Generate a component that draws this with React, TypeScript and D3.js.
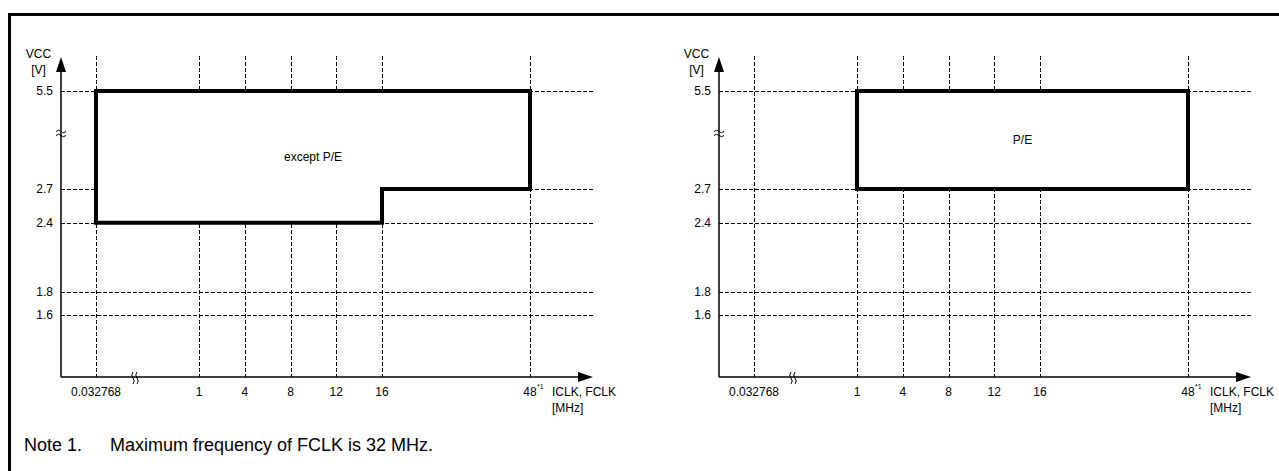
import React from "react";
import * as d3 from "d3";

// ---- data ----
const X_TICKS = ["0.032768", "1", "4", "8", "12", "16", "48"];
const Y_TICKS = [5.5, 2.7, 2.4, 1.8, 1.6];
const REGION_EXCEPT_PE = [
  { f: "0.032768", v: 5.5 },
  { f: "48", v: 5.5 },
  { f: "48", v: 2.7 },
  { f: "16", v: 2.7 },
  { f: "16", v: 2.4 },
  { f: "0.032768", v: 2.4 },
];
const REGION_PE = [
  { f: "1", v: 5.5 },
  { f: "48", v: 5.5 },
  { f: "48", v: 2.7 },
  { f: "1", v: 2.7 },
];
const PANEL_LABELS = ["except P/E", "P/E"];
const X_TITLE = ["ICLK, FCLK", "[MHz]"];
const Y_TITLE = ["VCC", "[V]"];
const NOTE_LABEL = "Note 1.";
const NOTE_TEXT = "Maximum frequency of FCLK is 32 MHz.";

// ---- layout ----
const W = 1279;
const H = 471;
const FONT = "'Liberation Sans', Arial, Helvetica, sans-serif";
const AXIS_X = 61;
const AXIS_Y = 377;
const GRID_TOP = 56;
const GRID_RIGHT = 594;
const ARROW_TIP_X = 593;
const ARROW_TIP_Y = 57;
const PANEL_OFFSETS = [0, 658];
const DASH = "4,2";

function Panel({ off, region, label }: { off: number; region: { f: string; v: number }[]; label: string }) {
  const xIdx = d3.scaleLinear().domain([0, 1, 5, 6]).range([96, 199, 382, 530].map((d) => d + off));
  const x = (f: string) => xIdx(X_TICKS.indexOf(f));
  const y = d3.scaleLinear().domain([1.6, 1.8, 2.4, 2.7, 5.5]).range([315, 291.7, 222.7, 189, 91]);
  const ax = AXIS_X + off;
  const line = d3
    .line<{ f: string; v: number }>()
    .x((d) => x(d.f))
    .y((d) => y(d.v))
    .curve(d3.curveLinear);
  const pathD = line(region) + "Z";
  const xs = region.map((d) => x(d.f));
  const ys = region.map((d) => y(d.v));
  const cx = (Math.min(...xs) + Math.max(...xs)) / 2;
  const cy = (Math.min(...ys) + Math.max(...ys)) / 2;
  const fmt = d3.format(".1f");
  return (
    <g>
      {/* grid */}
      {X_TICKS.map((t) => (
        <line key={"vx" + t} x1={Math.round(x(t)) + 0.5} x2={Math.round(x(t)) + 0.5} y1={GRID_TOP} y2={AXIS_Y} stroke="#000" strokeWidth={1} strokeDasharray={DASH} />
      ))}
      {Y_TICKS.map((t) => (
        <line key={"hy" + t} x1={ax} x2={GRID_RIGHT + off} y1={Math.round(y(t)) + 0.5} y2={Math.round(y(t)) + 0.5} stroke="#000" strokeWidth={1} strokeDasharray={DASH} />
      ))}
      {/* region */}
      <path d={pathD} fill="#fff" stroke="#000" strokeWidth={4} strokeLinejoin="miter" />
      <text x={cx} y={cy + 4} textAnchor="middle" fontSize={12} fontFamily={FONT}>{label}</text>
      {/* axes */}
      <line x1={ax} x2={ax} y1={AXIS_Y} y2={ARROW_TIP_Y + 10} stroke="#000" strokeWidth={1.5} />
      <path d={`M${ax},${ARROW_TIP_Y} L${ax - 5},${ARROW_TIP_Y + 15} L${ax + 5},${ARROW_TIP_Y + 15}Z`} fill="#000" />
      <line x1={ax} x2={ARROW_TIP_X + off - 10} y1={AXIS_Y} y2={AXIS_Y} stroke="#000" strokeWidth={1.5} />
      <path d={`M${ARROW_TIP_X + off},${AXIS_Y} L${ARROW_TIP_X + off - 15},${AXIS_Y - 5} L${ARROW_TIP_X + off - 15},${AXIS_Y + 5}Z`} fill="#000" />
      {/* axis breaks */}
      <path d={`M${ax - 5},${131.5} q2.5,-2.5 5,0 t5,0 M${ax - 5},${135.5} q2.5,-2.5 5,0 t5,0`} fill="none" stroke="#000" strokeWidth={1} />
      <path d={`M${off + 133},${372} q-2.5,3 0,6 t0,6 M${off + 137},${372} q-2.5,3 0,6 t0,6`} fill="none" stroke="#000" strokeWidth={1} />
      {/* y tick labels */}
      {Y_TICKS.map((t) => (
        <text key={"yl" + t} x={ax - 8} y={y(t) + 4} textAnchor="end" fontSize={12} fontFamily={FONT}>{fmt(t)}</text>
      ))}
      {/* x tick labels */}
      {X_TICKS.map((t) => (
        <text key={"xl" + t} x={x(t)} y={396} textAnchor="middle" fontSize={12} fontFamily={FONT}>{t}</text>
      ))}
      <text x={x("48") + 7} y={389} fontSize={7} fontFamily={FONT}>*1</text>
      {/* axis titles */}
      <text x={ax - 22.5} y={58} textAnchor="middle" fontSize={12} fontFamily={FONT}>{Y_TITLE[0]}</text>
      <text x={ax - 22.5} y={74} textAnchor="middle" fontSize={12} fontFamily={FONT}>{Y_TITLE[1]}</text>
      <text x={552 + off} y={396} fontSize={12} fontFamily={FONT}>{X_TITLE[0]}</text>
      <text x={552 + off} y={412} fontSize={12} fontFamily={FONT}>{X_TITLE[1]}</text>
    </g>
  );
}

export default function App() {
  const regions = [REGION_EXCEPT_PE, REGION_PE];
  return (
    <svg width={W} height={H} style={{ position: "absolute", left: 0, top: 0, background: "#fff" }}>
      <rect x={0} y={0} width={W} height={H} fill="#fff" />
      <rect x={9.5} y={14.5} width={W + 20} height={H + 20} fill="none" stroke="#000" strokeWidth={3} />
      {PANEL_OFFSETS.map((off, i) => (
        <Panel key={i} off={off} region={regions[i]} label={PANEL_LABELS[i]} />
      ))}
      <text x={24} y={451} fontSize={18} fontFamily={FONT}>{NOTE_LABEL}</text>
      <text x={110} y={451} fontSize={18} fontFamily={FONT}>{NOTE_TEXT}</text>
    </svg>
  );
}
